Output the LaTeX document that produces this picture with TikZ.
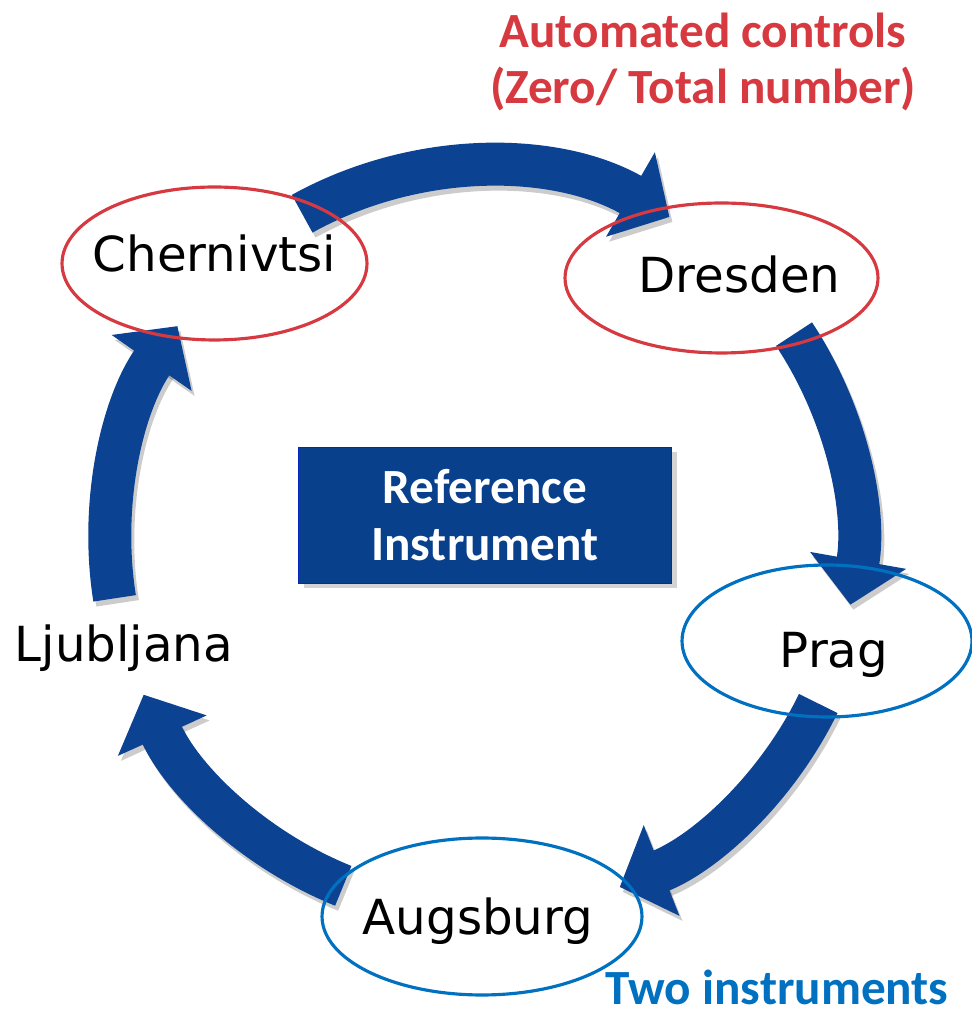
\documentclass[tikz,border=0pt]{standalone}
\usepackage{fontspec}
\setmainfont{DejaVu Sans}
\newfontfamily\notefont{Carlito}
\usetikzlibrary{arrows.meta,shapes.geometric,shadows}

\definecolor{ringblue}{RGB}{12,66,146}
\definecolor{boxblue}{RGB}{9,64,140}
\definecolor{ctrlred}{RGB}{214,58,64}
\definecolor{instblue}{RGB}{0,112,192}

\tikzset{
  ringarrow/.style={line width=0.86cm, draw=ringblue, -{Triangle[width=1.9cm,length=0.9cm]}},
  ringshadow/.style={line width=0.86cm, draw=black, opacity=0.2, -{Triangle[width=1.9cm,length=0.9cm]}},
  station/.style={ellipse, draw=#1, line width=1.8pt, inner sep=0pt},
  city/.style={anchor=base, font=\fontsize{27.5}{32}\selectfont},
  note/.style={font=\notefont\bfseries\fontsize{28}{32}\selectfont, align=center},
}

\begin{document}
\begin{tikzpicture}[x=0.02cm, y=0.02cm]
	\useasboundingbox (0,0) rectangle (972,1014);
	\coordinate (C) at (483,474);

	% arcs of the ring, tail angle / tip angle
	\foreach \s/\e [count=\i] in {119/60, 33.5/-10, -26/-68.5, -112/-155.5, 189/145} {
		\coordinate (tail\i) at ([shift={(\s:373)}]C);
		\draw[ringshadow] ([shift={(3,-5)}]tail\i) arc[start angle=\s, end angle=\e, radius=7.46cm];
		\draw[ringarrow] (tail\i) arc[start angle=\s, end angle=\e, radius=7.46cm];
	}

	\node[station=ctrlred, minimum width=6.1cm, minimum height=3.06cm] (cher) at (214.5,750.5) {};
	\node[station=ctrlred, minimum width=6.26cm, minimum height=3cm] (dres) at (721.5,736) {};
	\node[station=instblue, minimum width=5.8cm, minimum height=3.04cm] (prag) at (827,373) {};
	\node[station=instblue, minimum width=6.4cm, minimum height=3.14cm] (augs) at (482,97.5) {};

	\node[city] (cherlbl) at ([shift={(0,-8.5)}]cher.center) {Chernivtsi};
	\node[city] (dreslbl) at ([shift={(18,-15)}]dres.center) {Dresden};
	\node[city] (praglbl) at ([shift={(7,-27)}]prag.center) {Prag};
	\node[city] (augslbl) at ([shift={(-4,-18.5)}]augs.center) {Augsburg};
	\node[city] (ljub) at (124,352) {Ljubljana};

	\node[fill=boxblue, draw=blue!40!boxblue, minimum width=7.46cm, minimum height=2.72cm,
		text=white, note, drop shadow={shadow xshift=3pt, shadow yshift=-3pt, opacity=0.35}] (ref) at (485,499) {Reference\\Instrument};

	\node[note, text=ctrlred] (auto) at (703,952) {Automated controls\\(Zero/ Total number)};
	\node[note, text=instblue] (two) at (777,27) {Two instruments};
\end{tikzpicture}
\end{document}
